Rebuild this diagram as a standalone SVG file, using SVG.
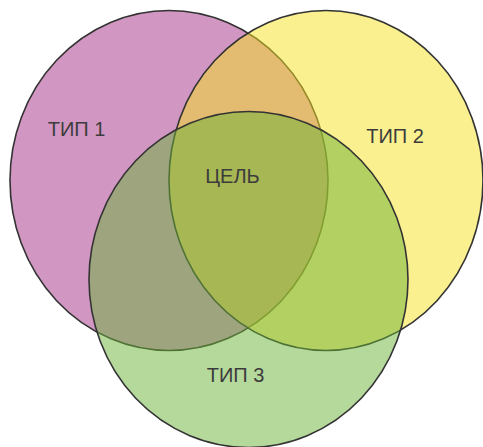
<svg xmlns="http://www.w3.org/2000/svg" width="483" height="447" viewBox="0 0 483 447">
  <style>
    .set { stroke: #333333; stroke-width: 1.6; fill-opacity: 0.5; }
    .lbl { font-family: "Liberation Sans", "Open Sans", Arial, sans-serif; font-size: 20px; fill: #3c3c3c; text-anchor: middle; }
  </style>
  <rect x="0" y="0" width="483" height="447" fill="#ffffff"/>
  <g id="type1">
    <ellipse class="set" cx="169" cy="180.5" rx="159" ry="170" fill="#A32F85"/>
  </g>
  <g id="type2">
    <ellipse class="set" cx="326" cy="180.5" rx="157" ry="170" fill="#F5E11F"/>
  </g>
  <g id="type3">
    <ellipse class="set" cx="248.5" cy="279.5" rx="159.5" ry="168" fill="#6BB137"/>
  </g>
  <g id="labels">
    <text class="lbl" x="76.5" y="136">ТИП 1</text>
    <text class="lbl" x="395" y="143">ТИП 2</text>
    <text class="lbl" x="232.5" y="183">ЦЕЛЬ</text>
    <text class="lbl" x="235.5" y="382">ТИП 3</text>
  </g>
  <g id="connectors"/>
</svg>
